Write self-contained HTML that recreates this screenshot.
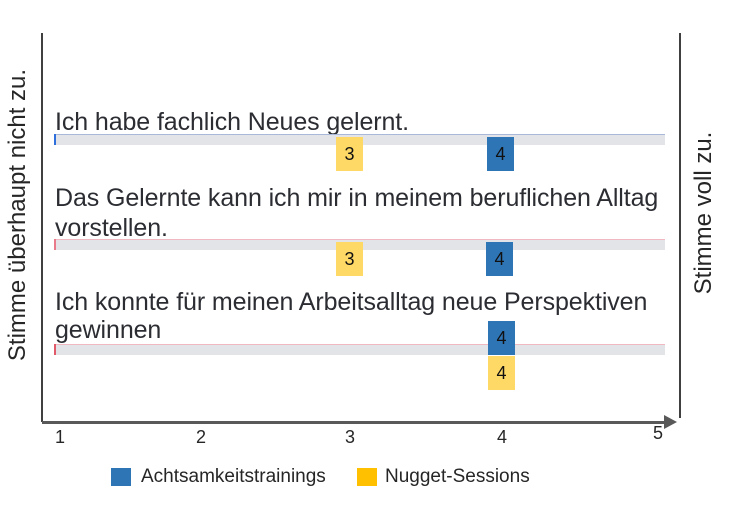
<!DOCTYPE html>
<html><head><meta charset="utf-8"><style>
body{margin:0;width:732px;height:516px;background:#fff;position:relative;overflow:hidden;font-family:"Liberation Sans",sans-serif;color:#262626}
.a{position:absolute}
.q{position:absolute;left:55px;font-size:25px;color:#2b2d33;line-height:30px;letter-spacing:-0.1px;white-space:nowrap}
.bar{position:absolute;left:54px;width:611px;height:11px;background:#e3e4e8}
.bar i{position:absolute;left:0;top:0;width:611px;height:1px}
.bar b{position:absolute;left:0;top:0;width:2px;height:11px}
.bx{position:absolute;width:27px;height:34px;font-size:18px;text-align:center;line-height:34px;color:#111}
.y{background:#ffd966}.bl{background:#2e75b6}
.t{position:absolute;font-size:18px;color:#262626}
</style></head><body>
<div class="a" style="left:41px;top:33px;width:2px;height:389px;background:#404040"></div>
<div class="a" style="left:679px;top:33px;width:2px;height:385px;background:#404040"></div>
<div class="a" style="left:42px;top:421px;width:624px;height:3px;background:#595959"></div>
<div class="a" style="left:664px;top:415px;width:0;height:0;border-left:13px solid #595959;border-top:7px solid transparent;border-bottom:7px solid transparent"></div>
<div class="t" style="left:55px;top:427px">1</div>
<div class="t" style="left:196px;top:427px">2</div>
<div class="t" style="left:345px;top:427px">3</div>
<div class="t" style="left:497px;top:427px">4</div>
<div class="t" style="left:653px;top:423px">5</div>
<div class="a" style="left:18px;top:215px;transform:translate(-50%,-50%) rotate(-90deg);font-size:24px;white-space:nowrap;color:#262626">Stimme überhaupt nicht zu.</div>
<div class="a" style="left:704px;top:213px;transform:translate(-50%,-50%) rotate(-90deg);font-size:24px;white-space:nowrap;color:#262626">Stimme voll zu.</div>

<div class="q" style="top:107px">Ich habe fachlich Neues gelernt.</div>
<div class="bar" style="top:134px"><i style="background:#a8b8d8"></i><b style="background:#2f6fdc"></b></div>
<div class="q" style="top:183px">Das Gelernte kann ich mir in meinem beruflichen Alltag<br>vorstellen.</div>
<div class="bar" style="top:239px"><i style="background:#f0b8c0"></i><b style="background:#e87a8a"></b></div>
<div class="q" style="top:288px;line-height:28px">Ich konnte für meinen Arbeitsalltag neue Perspektiven<br>gewinnen</div>
<div class="bar" style="top:344px"><i style="background:#f0b8c0"></i><b style="background:#e05a6a"></b></div>

<div class="bx y" style="left:336px;top:137px">3</div>
<div class="bx bl" style="left:487px;top:137px">4</div>
<div class="bx y" style="left:336px;top:242px">3</div>
<div class="bx bl" style="left:486px;top:242px">4</div>
<div class="bx bl" style="left:488px;top:321px">4</div>
<div class="bx y" style="left:488px;top:356px">4</div>

<div class="a" style="left:111px;top:468px;width:20px;height:18px;background:#2e75b6"></div>
<div class="t" style="left:141px;top:466px;font-size:19px">Achtsamkeitstrainings</div>
<div class="a" style="left:357px;top:468px;width:20px;height:18px;background:#ffc000"></div>
<div class="t" style="left:385px;top:466px;font-size:19px">Nugget-Sessions</div>
</body></html>
